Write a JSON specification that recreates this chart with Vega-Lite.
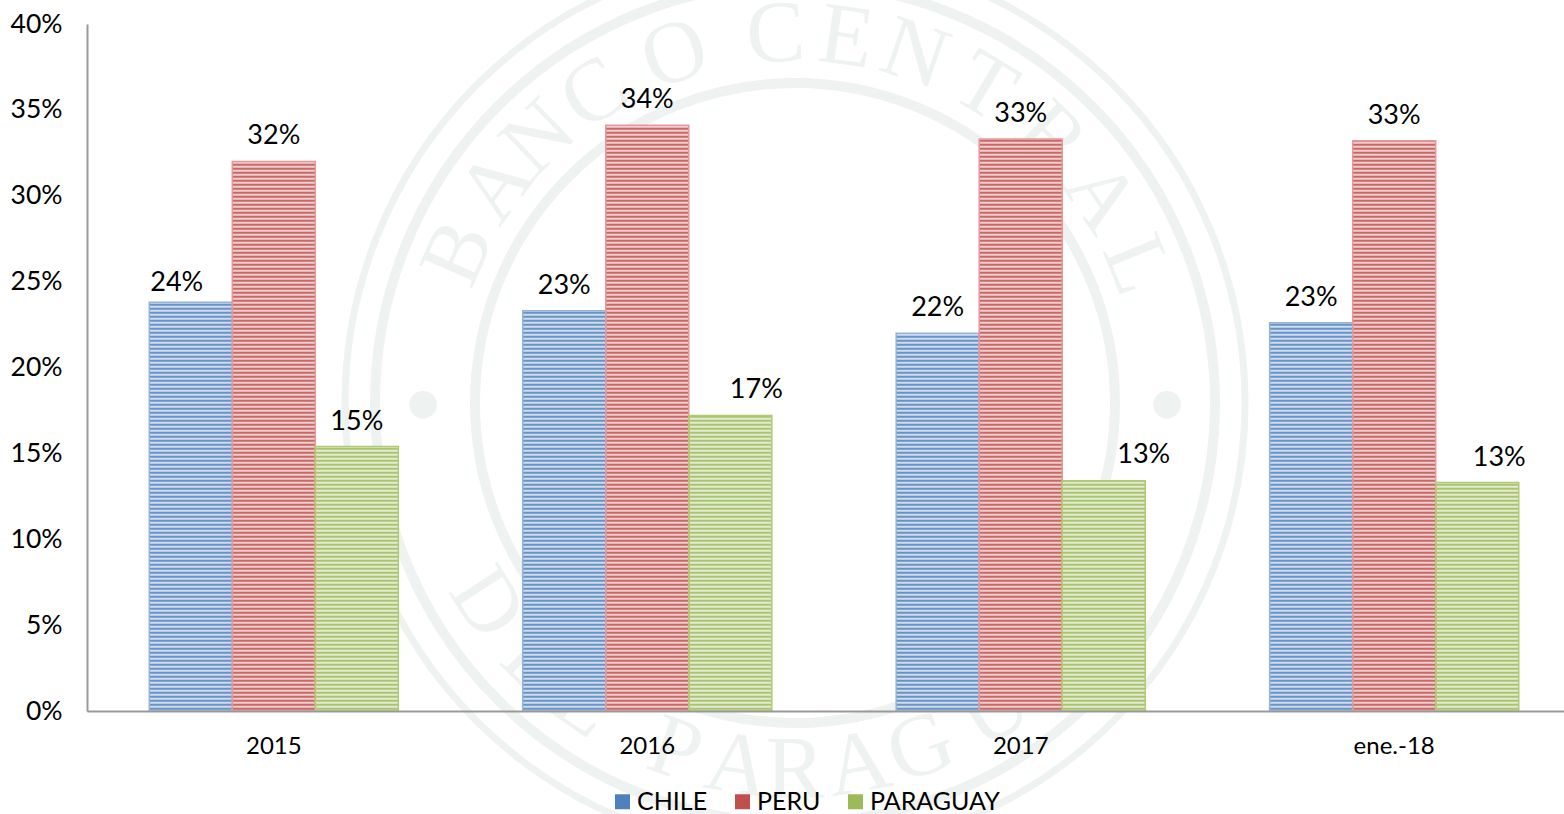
{
"$schema":"https://vega.github.io/schema/vega-lite/v6.json",
"autosize":"none",
"padding":{"left":87,"top":24,"right":0,"bottom":103},
"width":1477,"height":687,
"background":"white",
"config":{"view":{"stroke":null},"font":"Lato","text":{"font":"Lato"}},
"params":[{"name":"hatch","value":{
"CHILE":{"gradient":"linear","x1":0,"y1":0,"x2":0,"y2":1,"stops":[{"offset":0,"color":"#4f81bd"},{"offset":0.14,"color":"#4f81bd"},{"offset":0.14,"color":"#dce6f1"},{"offset":0.28,"color":"#dce6f1"},{"offset":0.28,"color":"#4f81bd"},{"offset":0.43,"color":"#4f81bd"},{"offset":0.43,"color":"#dce6f1"},{"offset":0.57,"color":"#dce6f1"},{"offset":0.57,"color":"#4f81bd"},{"offset":0.71,"color":"#4f81bd"},{"offset":0.71,"color":"#dce6f1"},{"offset":0.86,"color":"#dce6f1"},{"offset":0.86,"color":"#4f81bd"},{"offset":1,"color":"#4f81bd"}]},
"PERU":{"gradient":"linear","x1":0,"y1":0,"x2":0,"y2":1,"stops":[{"offset":0,"color":"#c0504d"},{"offset":0.14,"color":"#c0504d"},{"offset":0.14,"color":"#f2dcdb"},{"offset":0.28,"color":"#f2dcdb"},{"offset":0.28,"color":"#c0504d"},{"offset":0.43,"color":"#c0504d"},{"offset":0.43,"color":"#f2dcdb"},{"offset":0.57,"color":"#f2dcdb"},{"offset":0.57,"color":"#c0504d"},{"offset":0.71,"color":"#c0504d"},{"offset":0.71,"color":"#f2dcdb"},{"offset":0.86,"color":"#f2dcdb"},{"offset":0.86,"color":"#c0504d"},{"offset":1,"color":"#c0504d"}]},
"PARAGUAY":{"gradient":"linear","x1":0,"y1":0,"x2":0,"y2":1,"stops":[{"offset":0,"color":"#9bbb59"},{"offset":0.14,"color":"#9bbb59"},{"offset":0.14,"color":"#ebf1de"},{"offset":0.28,"color":"#ebf1de"},{"offset":0.28,"color":"#9bbb59"},{"offset":0.43,"color":"#9bbb59"},{"offset":0.43,"color":"#ebf1de"},{"offset":0.57,"color":"#ebf1de"},{"offset":0.57,"color":"#9bbb59"},{"offset":0.71,"color":"#9bbb59"},{"offset":0.71,"color":"#ebf1de"},{"offset":0.86,"color":"#ebf1de"},{"offset":0.86,"color":"#9bbb59"},{"offset":1,"color":"#9bbb59"}]}
}},
{"name":"stripes","value":[
{"offset":0,"color":"#fff0"},{"offset":0.003,"color":"#fffd"},{"offset":0.006,"color":"#fff0"},{"offset":0.009,"color":"#fffd"},{"offset":0.012,"color":"#fff0"},{"offset":0.015,"color":"#fffd"},{"offset":0.018,"color":"#fff0"},{"offset":0.021,"color":"#fffd"},{"offset":0.024,"color":"#fff0"},{"offset":0.027,"color":"#fffd"},{"offset":0.03,"color":"#fff0"},{"offset":0.033,"color":"#fffd"},{"offset":0.036,"color":"#fff0"},{"offset":0.039,"color":"#fffd"},{"offset":0.042,"color":"#fff0"},{"offset":0.045,"color":"#fffd"},{"offset":0.048,"color":"#fff0"},{"offset":0.051,"color":"#fffd"},{"offset":0.054,"color":"#fff0"},{"offset":0.057,"color":"#fffd"},{"offset":0.06,"color":"#fff0"},{"offset":0.063,"color":"#fffd"},{"offset":0.066,"color":"#fff0"},{"offset":0.069,"color":"#fffd"},{"offset":0.072,"color":"#fff0"},{"offset":0.075,"color":"#fffd"},{"offset":0.078,"color":"#fff0"},{"offset":0.081,"color":"#fffd"},{"offset":0.084,"color":"#fff0"},{"offset":0.087,"color":"#fffd"},{"offset":0.09,"color":"#fff0"},{"offset":0.093,"color":"#fffd"},{"offset":0.096,"color":"#fff0"},{"offset":0.099,"color":"#fffd"},
{"offset":0.102,"color":"#fff0"},{"offset":0.105,"color":"#fffd"},{"offset":0.108,"color":"#fff0"},{"offset":0.111,"color":"#fffd"},{"offset":0.114,"color":"#fff0"},{"offset":0.117,"color":"#fffd"},{"offset":0.12,"color":"#fff0"},{"offset":0.123,"color":"#fffd"},{"offset":0.126,"color":"#fff0"},{"offset":0.129,"color":"#fffd"},{"offset":0.132,"color":"#fff0"},{"offset":0.135,"color":"#fffd"},{"offset":0.138,"color":"#fff0"},{"offset":0.141,"color":"#fffd"},{"offset":0.144,"color":"#fff0"},{"offset":0.147,"color":"#fffd"},{"offset":0.15,"color":"#fff0"},{"offset":0.153,"color":"#fffd"},{"offset":0.156,"color":"#fff0"},{"offset":0.159,"color":"#fffd"},{"offset":0.162,"color":"#fff0"},{"offset":0.165,"color":"#fffd"},{"offset":0.168,"color":"#fff0"},{"offset":0.171,"color":"#fffd"},{"offset":0.174,"color":"#fff0"},{"offset":0.177,"color":"#fffd"},{"offset":0.18,"color":"#fff0"},{"offset":0.183,"color":"#fffd"},{"offset":0.186,"color":"#fff0"},{"offset":0.189,"color":"#fffd"},{"offset":0.192,"color":"#fff0"},{"offset":0.195,"color":"#fffd"},{"offset":0.198,"color":"#fff0"},
{"offset":0.201,"color":"#fffd"},{"offset":0.204,"color":"#fff0"},{"offset":0.207,"color":"#fffd"},{"offset":0.21,"color":"#fff0"},{"offset":0.213,"color":"#fffd"},{"offset":0.216,"color":"#fff0"},{"offset":0.219,"color":"#fffd"},{"offset":0.222,"color":"#fff0"},{"offset":0.225,"color":"#fffd"},{"offset":0.228,"color":"#fff0"},{"offset":0.231,"color":"#fffd"},{"offset":0.234,"color":"#fff0"},{"offset":0.237,"color":"#fffd"},{"offset":0.24,"color":"#fff0"},{"offset":0.243,"color":"#fffd"},{"offset":0.246,"color":"#fff0"},{"offset":0.249,"color":"#fffd"},{"offset":0.252,"color":"#fff0"},{"offset":0.255,"color":"#fffd"},{"offset":0.258,"color":"#fff0"},{"offset":0.261,"color":"#fffd"},{"offset":0.264,"color":"#fff0"},{"offset":0.267,"color":"#fffd"},{"offset":0.27,"color":"#fff0"},{"offset":0.273,"color":"#fffd"},{"offset":0.276,"color":"#fff0"},{"offset":0.279,"color":"#fffd"},{"offset":0.282,"color":"#fff0"},{"offset":0.285,"color":"#fffd"},{"offset":0.288,"color":"#fff0"},{"offset":0.291,"color":"#fffd"},{"offset":0.294,"color":"#fff0"},{"offset":0.297,"color":"#fffd"},
{"offset":0.3,"color":"#fff0"},{"offset":0.303,"color":"#fffd"},{"offset":0.306,"color":"#fff0"},{"offset":0.309,"color":"#fffd"},{"offset":0.312,"color":"#fff0"},{"offset":0.315,"color":"#fffd"},{"offset":0.318,"color":"#fff0"},{"offset":0.321,"color":"#fffd"},{"offset":0.324,"color":"#fff0"},{"offset":0.327,"color":"#fffd"},{"offset":0.33,"color":"#fff0"},{"offset":0.333,"color":"#fffd"},{"offset":0.336,"color":"#fff0"},{"offset":0.339,"color":"#fffd"},{"offset":0.342,"color":"#fff0"},{"offset":0.345,"color":"#fffd"},{"offset":0.348,"color":"#fff0"},{"offset":0.351,"color":"#fffd"},{"offset":0.354,"color":"#fff0"},{"offset":0.357,"color":"#fffd"},{"offset":0.36,"color":"#fff0"},{"offset":0.363,"color":"#fffd"},{"offset":0.366,"color":"#fff0"},{"offset":0.369,"color":"#fffd"},{"offset":0.372,"color":"#fff0"},{"offset":0.375,"color":"#fffd"},{"offset":0.378,"color":"#fff0"},{"offset":0.381,"color":"#fffd"},{"offset":0.384,"color":"#fff0"},{"offset":0.387,"color":"#fffd"},{"offset":0.39,"color":"#fff0"},{"offset":0.393,"color":"#fffd"},{"offset":0.396,"color":"#fff0"},{"offset":0.399,"color":"#fffd"},
{"offset":0.402,"color":"#fff0"},{"offset":0.405,"color":"#fffd"},{"offset":0.408,"color":"#fff0"},{"offset":0.411,"color":"#fffd"},{"offset":0.414,"color":"#fff0"},{"offset":0.417,"color":"#fffd"},{"offset":0.42,"color":"#fff0"},{"offset":0.423,"color":"#fffd"},{"offset":0.426,"color":"#fff0"},{"offset":0.429,"color":"#fffd"},{"offset":0.432,"color":"#fff0"},{"offset":0.435,"color":"#fffd"},{"offset":0.438,"color":"#fff0"},{"offset":0.441,"color":"#fffd"},{"offset":0.444,"color":"#fff0"},{"offset":0.447,"color":"#fffd"},{"offset":0.45,"color":"#fff0"},{"offset":0.453,"color":"#fffd"},{"offset":0.456,"color":"#fff0"},{"offset":0.459,"color":"#fffd"},{"offset":0.462,"color":"#fff0"},{"offset":0.465,"color":"#fffd"},{"offset":0.468,"color":"#fff0"},{"offset":0.471,"color":"#fffd"},{"offset":0.474,"color":"#fff0"},{"offset":0.477,"color":"#fffd"},{"offset":0.48,"color":"#fff0"},{"offset":0.483,"color":"#fffd"},{"offset":0.486,"color":"#fff0"},{"offset":0.489,"color":"#fffd"},{"offset":0.492,"color":"#fff0"},{"offset":0.495,"color":"#fffd"},{"offset":0.498,"color":"#fff0"},
{"offset":0.501,"color":"#fffd"},{"offset":0.504,"color":"#fff0"},{"offset":0.507,"color":"#fffd"},{"offset":0.51,"color":"#fff0"},{"offset":0.513,"color":"#fffd"},{"offset":0.516,"color":"#fff0"},{"offset":0.519,"color":"#fffd"},{"offset":0.522,"color":"#fff0"},{"offset":0.525,"color":"#fffd"},{"offset":0.528,"color":"#fff0"},{"offset":0.531,"color":"#fffd"},{"offset":0.534,"color":"#fff0"},{"offset":0.537,"color":"#fffd"},{"offset":0.54,"color":"#fff0"},{"offset":0.543,"color":"#fffd"},{"offset":0.546,"color":"#fff0"},{"offset":0.549,"color":"#fffd"},{"offset":0.552,"color":"#fff0"},{"offset":0.555,"color":"#fffd"},{"offset":0.558,"color":"#fff0"},{"offset":0.561,"color":"#fffd"},{"offset":0.564,"color":"#fff0"},{"offset":0.567,"color":"#fffd"},{"offset":0.57,"color":"#fff0"},{"offset":0.573,"color":"#fffd"},{"offset":0.576,"color":"#fff0"},{"offset":0.579,"color":"#fffd"},{"offset":0.582,"color":"#fff0"},{"offset":0.585,"color":"#fffd"},{"offset":0.588,"color":"#fff0"},{"offset":0.591,"color":"#fffd"},{"offset":0.594,"color":"#fff0"},{"offset":0.597,"color":"#fffd"},
{"offset":0.6,"color":"#fff0"},{"offset":0.603,"color":"#fffd"},{"offset":0.606,"color":"#fff0"},{"offset":0.609,"color":"#fffd"},{"offset":0.612,"color":"#fff0"},{"offset":0.615,"color":"#fffd"},{"offset":0.618,"color":"#fff0"},{"offset":0.621,"color":"#fffd"},{"offset":0.624,"color":"#fff0"},{"offset":0.627,"color":"#fffd"},{"offset":0.63,"color":"#fff0"},{"offset":0.633,"color":"#fffd"},{"offset":0.636,"color":"#fff0"},{"offset":0.639,"color":"#fffd"},{"offset":0.642,"color":"#fff0"},{"offset":0.645,"color":"#fffd"},{"offset":0.648,"color":"#fff0"},{"offset":0.651,"color":"#fffd"},{"offset":0.654,"color":"#fff0"},{"offset":0.657,"color":"#fffd"},{"offset":0.66,"color":"#fff0"},{"offset":0.663,"color":"#fffd"},{"offset":0.666,"color":"#fff0"},{"offset":0.669,"color":"#fffd"},{"offset":0.672,"color":"#fff0"},{"offset":0.675,"color":"#fffd"},{"offset":0.678,"color":"#fff0"},{"offset":0.681,"color":"#fffd"},{"offset":0.684,"color":"#fff0"},{"offset":0.687,"color":"#fffd"},{"offset":0.69,"color":"#fff0"},{"offset":0.693,"color":"#fffd"},{"offset":0.696,"color":"#fff0"},{"offset":0.699,"color":"#fffd"},
{"offset":0.702,"color":"#fff0"},{"offset":0.705,"color":"#fffd"},{"offset":0.708,"color":"#fff0"},{"offset":0.711,"color":"#fffd"},{"offset":0.714,"color":"#fff0"},{"offset":0.717,"color":"#fffd"},{"offset":0.72,"color":"#fff0"},{"offset":0.723,"color":"#fffd"},{"offset":0.726,"color":"#fff0"},{"offset":0.729,"color":"#fffd"},{"offset":0.732,"color":"#fff0"},{"offset":0.735,"color":"#fffd"},{"offset":0.738,"color":"#fff0"},{"offset":0.741,"color":"#fffd"},{"offset":0.744,"color":"#fff0"},{"offset":0.747,"color":"#fffd"},{"offset":0.75,"color":"#fff0"},{"offset":0.753,"color":"#fffd"},{"offset":0.756,"color":"#fff0"},{"offset":0.759,"color":"#fffd"},{"offset":0.762,"color":"#fff0"},{"offset":0.765,"color":"#fffd"},{"offset":0.768,"color":"#fff0"},{"offset":0.771,"color":"#fffd"},{"offset":0.774,"color":"#fff0"},{"offset":0.777,"color":"#fffd"},{"offset":0.78,"color":"#fff0"},{"offset":0.783,"color":"#fffd"},{"offset":0.786,"color":"#fff0"},{"offset":0.789,"color":"#fffd"},{"offset":0.792,"color":"#fff0"},{"offset":0.795,"color":"#fffd"},{"offset":0.798,"color":"#fff0"},
{"offset":0.801,"color":"#fffd"},{"offset":0.804,"color":"#fff0"},{"offset":0.807,"color":"#fffd"},{"offset":0.81,"color":"#fff0"},{"offset":0.813,"color":"#fffd"},{"offset":0.816,"color":"#fff0"},{"offset":0.819,"color":"#fffd"},{"offset":0.822,"color":"#fff0"},{"offset":0.825,"color":"#fffd"},{"offset":0.828,"color":"#fff0"},{"offset":0.831,"color":"#fffd"},{"offset":0.834,"color":"#fff0"},{"offset":0.837,"color":"#fffd"},{"offset":0.84,"color":"#fff0"},{"offset":0.843,"color":"#fffd"},{"offset":0.846,"color":"#fff0"},{"offset":0.849,"color":"#fffd"},{"offset":0.852,"color":"#fff0"},{"offset":0.855,"color":"#fffd"},{"offset":0.858,"color":"#fff0"},{"offset":0.861,"color":"#fffd"},{"offset":0.864,"color":"#fff0"},{"offset":0.867,"color":"#fffd"},{"offset":0.87,"color":"#fff0"},{"offset":0.873,"color":"#fffd"},{"offset":0.876,"color":"#fff0"},{"offset":0.879,"color":"#fffd"},{"offset":0.882,"color":"#fff0"},{"offset":0.885,"color":"#fffd"},{"offset":0.888,"color":"#fff0"},{"offset":0.891,"color":"#fffd"},{"offset":0.894,"color":"#fff0"},{"offset":0.897,"color":"#fffd"},
{"offset":0.9,"color":"#fff0"},{"offset":0.903,"color":"#fffd"},{"offset":0.906,"color":"#fff0"},{"offset":0.909,"color":"#fffd"},{"offset":0.912,"color":"#fff0"},{"offset":0.915,"color":"#fffd"},{"offset":0.918,"color":"#fff0"},{"offset":0.921,"color":"#fffd"},{"offset":0.924,"color":"#fff0"},{"offset":0.927,"color":"#fffd"},{"offset":0.93,"color":"#fff0"},{"offset":0.933,"color":"#fffd"},{"offset":0.936,"color":"#fff0"},{"offset":0.939,"color":"#fffd"},{"offset":0.942,"color":"#fff0"},{"offset":0.945,"color":"#fffd"},{"offset":0.948,"color":"#fff0"},{"offset":0.951,"color":"#fffd"},{"offset":0.954,"color":"#fff0"},{"offset":0.957,"color":"#fffd"},{"offset":0.96,"color":"#fff0"},{"offset":0.963,"color":"#fffd"},{"offset":0.966,"color":"#fff0"},{"offset":0.969,"color":"#fffd"},{"offset":0.972,"color":"#fff0"},{"offset":0.975,"color":"#fffd"},{"offset":0.978,"color":"#fff0"},{"offset":0.981,"color":"#fffd"},{"offset":0.984,"color":"#fff0"},{"offset":0.987,"color":"#fffd"},{"offset":0.99,"color":"#fff0"},{"offset":0.993,"color":"#fffd"},{"offset":0.996,"color":"#fff0"},{"offset":0.999,"color":"#fffd"}
]}],
"data":{"values":[
{"periodo":"2015","pais":"CHILE","valor":0.238},{"periodo":"2015","pais":"PERU","valor":0.32},{"periodo":"2015","pais":"PARAGUAY","valor":0.154},
{"periodo":"2016","pais":"CHILE","valor":0.233},{"periodo":"2016","pais":"PERU","valor":0.341},{"periodo":"2016","pais":"PARAGUAY","valor":0.172},
{"periodo":"2017","pais":"CHILE","valor":0.22},{"periodo":"2017","pais":"PERU","valor":0.333},{"periodo":"2017","pais":"PARAGUAY","valor":0.134},
{"periodo":"ene.-18","pais":"CHILE","valor":0.226},{"periodo":"ene.-18","pais":"PERU","valor":0.332},{"periodo":"ene.-18","pais":"PARAGUAY","valor":0.133}
]},
"encoding":{
"x":{"field":"periodo","type":"nominal","sort":null,"scale":{"range":[0,1494],"paddingInner":0.333,"paddingOuter":0.1667},
"axis":{"title":null,"labelAngle":0,"labelFont":"Lato","labelFontSize":24,"labelColor":"black","labelPadding":23,"ticks":false,"domainColor":"#999999","domainWidth":2,"grid":false,"zindex":1}},
"xOffset":{"field":"pais","type":"nominal","sort":["CHILE","PERU","PARAGUAY"],"scale":{"paddingInner":0,"paddingOuter":0}},
"y":{"field":"valor","type":"quantitative","scale":{"domain":[0,0.4]},
"axis":{"title":null,"format":".0%","values":[0,0.05,0.1,0.15,0.2,0.25,0.3,0.35,0.4],"labelFont":"Lato","labelFontSize":26.5,"labelColor":"black","labelPadding":25,"ticks":false,"domainColor":"#999999","domainWidth":2,"grid":false,"zindex":1}}
},
"layer":[
{"data":{"values":[{"r":0}]},"mark":{"type":"point","x":708,"y":379,"size":810000,"filled":false,"stroke":"#eef2f0","strokeWidth":7,"opacity":1},"encoding":{"x":null,"xOffset":null,"y":null}},
{"data":{"values":[{"r":0}]},"mark":{"type":"point","x":708,"y":379,"size":705600,"filled":false,"stroke":"#eef2f0","strokeWidth":10,"opacity":1},"encoding":{"x":null,"xOffset":null,"y":null}},
{"data":{"values":[{"r":0}]},"mark":{"type":"point","x":708,"y":379,"size":409600,"filled":false,"stroke":"#eef2f0","strokeWidth":10,"opacity":1},"encoding":{"x":null,"xOffset":null,"y":null}},
{"data":{"values":[{"ch":"B","a":-66,"g":-66},{"ch":"A","a":-54,"g":-54},{"ch":"N","a":-44,"g":-44},{"ch":"C","a":-33,"g":-33},{"ch":"O","a":-19,"g":-19},{"ch":"C","a":-3,"g":-3},{"ch":"E","a":8,"g":8},{"ch":"N","a":19,"g":19},{"ch":"T","a":31,"g":31},{"ch":"R","a":44,"g":44},{"ch":"A","a":56,"g":56},{"ch":"L","a":68,"g":68},
{"ch":"D","a":237,"g":57},{"ch":"E","a":225,"g":45},{"ch":"L","a":215,"g":35},{"ch":"P","a":199,"g":19},{"ch":"A","a":189,"g":9},{"ch":"R","a":180,"g":0},{"ch":"A","a":170,"g":-10},{"ch":"G","a":160,"g":-20},{"ch":"U","a":147,"g":-33},{"ch":"A","a":135,"g":-45},{"ch":"Y","a":123,"g":-57}]},
"mark":{"type":"text","x":708,"y":379,"radius":368,"font":"Liberation Serif","fontSize":88,"color":"#eef2f0","baseline":"middle","align":"center"},
"encoding":{"x":null,"xOffset":null,"y":null,"text":{"field":"ch"},"theta":{"field":"a","type":"quantitative","scale":{"domain":[0,360],"range":[0,6.2832]}},"angle":{"field":"g","type":"quantitative","scale":null}}},
{"data":{"values":[{"ch":"●","a":-90},{"ch":"●","a":90}]},
"mark":{"type":"text","x":708,"y":379,"radius":372,"font":"DejaVu Sans","fontSize":36,"color":"#eef2f0","baseline":"middle","align":"center"},
"encoding":{"x":null,"xOffset":null,"y":null,"text":{"field":"ch"},"theta":{"field":"a","type":"quantitative","scale":{"domain":[0,360],"range":[0,6.2832]}}}},
{"mark":{"type":"bar","stroke":null},"encoding":{
"color":{"field":"pais","type":"nominal","sort":["CHILE","PERU","PARAGUAY"],"scale":{"domain":["CHILE","PERU","PARAGUAY"],"range":["#4f81bd","#c0504d","#9bbb59"]},
"legend":{"orient":"none","legendX":523,"legendY":765,"direction":"horizontal","title":null,"symbolType":"square","symbolSize":225,"symbolStrokeWidth":0,"symbolOpacity":1,"labelFont":"Lato","labelFontSize":25,"labelColor":"black","labelOffset":2,"columnPadding":22,"labelLimit":300,"encode":{"symbols":{"fill":{"value":{"expr":"hatch[datum.value]"}}}}}}}},
{"mark":{"type":"bar","stroke":null,"fill":{"expr":"{gradient:'linear',x1:0,y1:1-0.387869/datum.valor,x2:0,y2:1+0.000291/datum.valor,stops:stripes}"}}},
{"mark":{"type":"bar","filled":false,"strokeWidth":1.5},"encoding":{
"stroke":{"field":"pais","type":"nominal","sort":["CHILE","PERU","PARAGUAY"],"scale":{"domain":["CHILE","PERU","PARAGUAY"],"range":["#95b3d7","#e6989a","#b0cb72"]},"legend":null}}},
{"transform":[{"filter":"!((datum.periodo=='2015'&&datum.pais=='CHILE')||(datum.pais=='PARAGUAY'&&datum.periodo!='2015'))"}],"mark":{"type":"text","dy":-25,"font":"Lato","fontSize":27,"color":"black"},"encoding":{"text":{"field":"valor","format":".0%"}}},
{"transform":[{"filter":"datum.periodo=='2015'&&datum.pais=='CHILE'"}],"mark":{"type":"text","dy":-19,"dx":-14,"font":"Lato","fontSize":27,"color":"black"},"encoding":{"text":{"field":"valor","format":".0%"}}},
{"transform":[{"filter":"datum.periodo=='2016'&&datum.pais=='PARAGUAY'"}],"mark":{"type":"text","dy":-26,"dx":26,"font":"Lato","fontSize":27,"color":"black"},"encoding":{"text":{"field":"valor","format":".0%"}}},
{"transform":[{"filter":"datum.periodo=='2017'&&datum.pais=='PARAGUAY'"}],"mark":{"type":"text","dy":-26,"dx":40,"font":"Lato","fontSize":27,"color":"black"},"encoding":{"text":{"field":"valor","format":".0%"}}},
{"transform":[{"filter":"datum.periodo=='ene.-18'&&datum.pais=='PARAGUAY'"}],"mark":{"type":"text","dy":-25,"dx":22,"font":"Lato","fontSize":27,"color":"black"},"encoding":{"text":{"field":"valor","format":".0%"}}}
]
}
